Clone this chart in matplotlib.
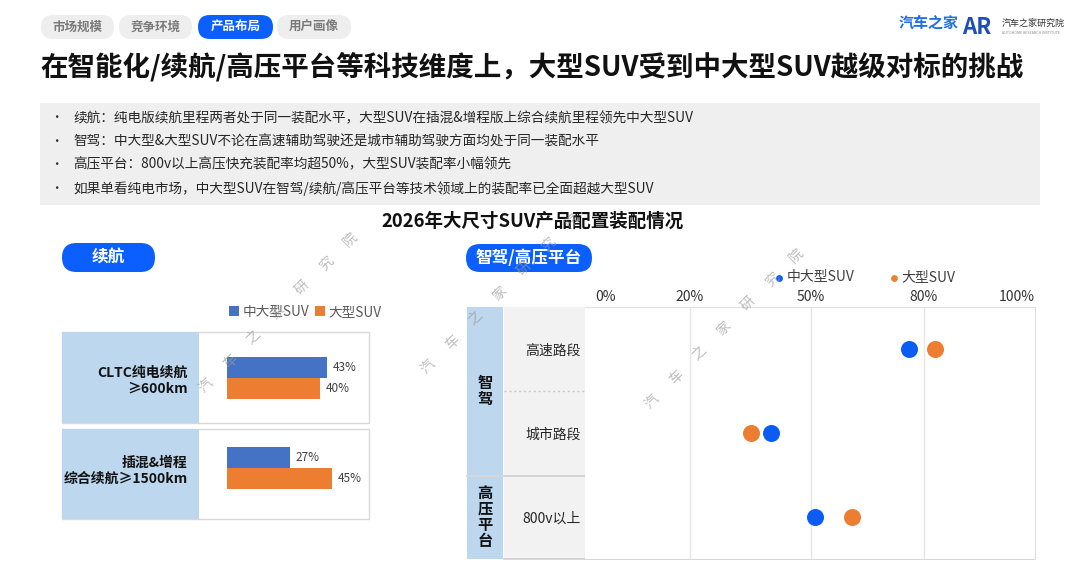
import numpy as np
import matplotlib
matplotlib.use('Agg')
import matplotlib.pyplot as plt
from matplotlib.patches import FancyBboxPatch, Rectangle
import matplotlib.transforms as mtrans

plt.rcParams['font.family'] = ['Noto Sans CJK SC', 'DejaVu Sans']

# ---- data ----
tabs = ['市场规模', '竞争环境', '产品布局', '用户画像']
active_tab = 2
title = '在智能化/续航/高压平台等科技维度上，大型SUV受到中大型SUV越级对标的挑战'
bullets = [
    '续航：纯电版续航里程两者处于同一装配水平，大型SUV在插混&增程版上综合续航里程领先中大型SUV',
    '智驾：中大型&大型SUV不论在高速辅助驾驶还是城市辅助驾驶方面均处于同一装配水平',
    '高压平台：800v以上高压快充装配率均超50%，大型SUV装配率小幅领先',
    '如果单看纯电市场，中大型SUV在智驾/续航/高压平台等技术领域上的装配率已全面超越大型SUV',
]
subtitle = '2026年大尺寸SUV产品配置装配情况'
series = ['中大型SUV', '大型SUV']

range_cats = ['CLTC纯电续航\n≥600km', '插混&增程\n综合续航≥1500km']
range_mid = [43, 27]
range_large = [40, 45]

adas_cats = ['高速路段', '城市路段', '800v以上']
adas_groups = ['智\n驾', '高\n压\n平\n台']
adas_mid = [76, 40, 51]
adas_large = [82, 35, 61]
x_ticks = [0, 20, 50, 80, 100]

BLUE_BAR = '#4472c4'
ORANGE = '#ed7d31'
BLUE_DOT = '#0a5cf5'
PILL = '#0b5fff'
LIGHT_BLUE = '#bdd7ee'

W, H = 1080, 574
fig = plt.figure(figsize=(W / 100, H / 100), dpi=100)


def rect(x0, y0, x1, y1):
    return [x0 / W, 1 - y1 / H, (x1 - x0) / W, (y1 - y0) / H]


bg = fig.add_axes([0, 0, 1, 1], zorder=0)
bg.set_xlim(0, W)
bg.set_ylim(H, 0)
bg.axis('off')


def pill(x0, x1, y0, y1, color):
    h = y1 - y0
    bg.add_patch(FancyBboxPatch((x0, y0), x1 - x0, h,
                                boxstyle=f'round,pad=0,rounding_size={h / 2}',
                                fc=color, ec='none'))


# tabs
tab_x = [(41, 114), (119, 192), (198, 273), (277, 351)]
for i, (t, (x0, x1)) in enumerate(zip(tabs, tab_x)):
    active = i == active_tab
    pill(x0, x1, 15, 39, PILL if active else '#eeeeee')
    bg.text((x0 + x1) / 2, 27, t, ha='center', va='center', fontsize=9,
            fontweight='bold', color='white' if active else '#7a7a7a')

# logos
bg.text(899, 23, '汽车之家', fontsize=10.8, fontweight='bold', color='#1f6fe5', va='center')
bg.text(962, 27, 'AR', fontsize=16, fontweight='bold', color='#1f4fb4', va='center')
bg.text(1002, 23, '汽车之家研究院', fontsize=6.5, color='#333333', va='center')
bg.text(1002, 33, 'AUTOHOME RESEARCH INSTITUTE', fontsize=2.6, color='#888888', va='center')

# title
bg.text(40, 67, title, fontsize=19.8, fontweight='bold', color='#111111', va='center')

# bullet box
bg.add_patch(Rectangle((40, 103), 1000, 102, fc='#efefef', ec='none'))
for i, b in enumerate(bullets):
    y = 118 + i * 23.4
    bg.text(50, y, '•', fontsize=9, color='#333333', va='center')
    bg.text(73, y, b, fontsize=9.85, color='#262626', va='center')

bg.text(533, 221, subtitle, fontsize=13.3, fontweight='bold', color='#111111',
        ha='center', va='center')

# section pills
pill(62, 155, 243, 272, PILL)
bg.text(108, 257, '续航', fontsize=12, fontweight='bold', color='white', ha='center', va='center')
pill(466, 592, 244, 272, PILL)
bg.text(529, 258, '智驾/高压平台', fontsize=12, fontweight='bold', color='white',
        ha='center', va='center')

# left table frame
for (y0, y1) in [(332, 423), (429, 519)]:
    bg.add_patch(Rectangle((62, y0), 307, y1 - y0, fc='white', ec='#d9d9d9', lw=1))
    bg.add_patch(Rectangle((62, y0), 137, y1 - y0, fc=LIGHT_BLUE, ec='none'))

# right table frame
bg.add_patch(Rectangle((467, 307), 36, 168, fc=LIGHT_BLUE, ec='none'))
bg.add_patch(Rectangle((467, 477), 36, 82, fc=LIGHT_BLUE, ec='none'))
bg.add_patch(Rectangle((504, 307), 81, 252, fc='#f2f2f2', ec='none'))
bg.plot([504, 1035], [391, 391], color='#c8c8c8', lw=1, ls=(0, (1.5, 2)))
bg.plot([467, 1035], [476, 476], color='#cfcfcf', lw=1.2)
bg.plot([504, 1035], [559, 559], color='#cfcfcf', lw=1.2)
bg.text(485, 391, adas_groups[0], fontsize=11, fontweight='bold', color='#111111',
        ha='center', va='center', linespacing=1.0)
bg.text(485, 517, adas_groups[1], fontsize=11, fontweight='bold', color='#111111',
        ha='center', va='center', linespacing=1.0)

# ---- left bar chart ----
ax1 = fig.add_axes(rect(200, 332, 369, 519), zorder=2)
ax1.patch.set_alpha(0)
ypos = np.arange(len(range_cats))
bh = 0.233
ax1.barh(ypos - bh / 2, range_mid, height=bh, color=BLUE_BAR, label=series[0])
ax1.barh(ypos + bh / 2, range_large, height=bh, color=ORANGE, label=series[1])
for y, v in zip(ypos - bh / 2, range_mid):
    ax1.text(v + 2.5, y, f'{v}%', va='center', fontsize=8.5, color='#404040')
for y, v in zip(ypos + bh / 2, range_large):
    ax1.text(v + 2.5, y, f'{v}%', va='center', fontsize=8.5, color='#404040')
ax1.set_xlim(-11.6, 61.0)
ax1.set_ylim(1.567, -0.511)
ax1.set_xticks([])
ax1.set_yticks(ypos)
ax1.set_yticklabels(range_cats, fontsize=10, fontweight='bold', color='#111111')
ax1.tick_params(axis='y', length=0, pad=9)
for s in ax1.spines.values():
    s.set_visible(False)
ax1.legend(loc='lower left', bbox_to_anchor=(224 / W, 1 - 324 / H), bbox_transform=fig.transFigure,
           ncol=2, frameon=False, fontsize=9.8, handlelength=0.7, handleheight=0.7,
           handletextpad=0.3, columnspacing=0.4, borderaxespad=0, labelcolor='#595959')

# ---- right dot chart ----
px_pos = [0, 105, 226, 339, 450]


def fwd(v):
    return np.interp(v, x_ticks, px_pos)


def inv(v):
    return np.interp(v, px_pos, x_ticks)


ax2 = fig.add_axes(rect(585, 307, 1035, 559), zorder=2)
ax2.set_facecolor('white')
ax2.set_xscale('function', functions=(fwd, inv))
ax2.set_xlim(0, 100)
yy = np.arange(len(adas_cats))
ax2.set_ylim(2.5, -0.5)
for v in x_ticks[1:-1]:
    ax2.axvline(v, color='#e6e6e6', lw=1, zorder=0)
ax2.scatter(adas_mid, yy, s=150, color=BLUE_DOT, zorder=3, label=series[0], lw=0)
ax2.scatter(adas_large, yy, s=150, color=ORANGE, zorder=3, label=series[1], lw=0)
ax2.set_xticks(x_ticks)
ax2.set_xticklabels([f'{v}%' for v in x_ticks], fontsize=10, color='#333333')
ax2.xaxis.tick_top()
ax2.tick_params(axis='x', length=0, pad=2)
labs = ax2.get_xticklabels()
labs[0].set_ha('left')
labs[0].set_transform(labs[0].get_transform() + mtrans.ScaledTranslation(0.1, 0, fig.dpi_scale_trans))
labs[-1].set_ha('right')
ax2.set_yticks(yy)
ax2.set_yticklabels(adas_cats, fontsize=10, color='#262626')
ax2.tick_params(axis='y', length=0, pad=3)
for k, s in ax2.spines.items():
    s.set_visible(k in ('top', 'right'))
    s.set_color('#e0e0e0')
ax2.legend(loc='lower left', bbox_to_anchor=(770 / W, 1 - 290 / H), bbox_transform=fig.transFigure,
           ncol=2, frameon=False, fontsize=10, markerscale=0.4, handlelength=0.5,
           handletextpad=0.3, columnspacing=2.6, borderaxespad=0, labelcolor='#404040')

# ---- watermark ----
top = fig.add_axes([0, 0, 1, 1], zorder=10)
top.set_xlim(0, W)
top.set_ylim(H, 0)
top.axis('off')
wm = '汽车之家研究院'
for (x0, y0) in [(206, 386), (428, 367), (652, 402)]:
    for i, ch in enumerate(wm):
        top.text(x0 + i * 24, y0 - i * 24.5, ch, fontsize=10, color='#999999', alpha=0.65,
                 rotation=45, ha='center', va='center')

fig.savefig('out.png', dpi=100)
